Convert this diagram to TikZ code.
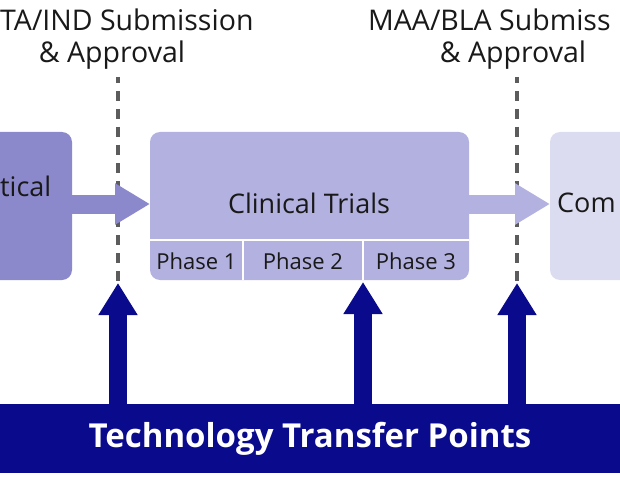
\documentclass[tikz,border=0pt]{standalone}
\usepackage{fontspec}
\setmainfont{Open Sans}
\usetikzlibrary{arrows.meta,positioning}

\definecolor{preclin}{HTML}{8B88CC}
\definecolor{clinical}{HTML}{B3B1E0}
\definecolor{commer}{HTML}{DCDCF0}
\definecolor{navy}{HTML}{0A0A8C}
\definecolor{dashgray}{HTML}{5C5C5C}

\begin{document}
\begin{tikzpicture}[x=1pt, y=1pt,
    stage/.style={rounded corners=10pt, inner sep=0pt, outer sep=0pt, minimum height=148pt},
    stagetext/.style={font=\fontsize{27}{30}\selectfont, text=black!90, inner sep=0pt},
    phase/.style={font=\fontsize{22}{24}\selectfont, text=black!90},
    flow/.style={line width=19pt, -{Triangle[length=35pt, width=39pt]}},
    milestone/.style={dashgray, line width=3.5pt, dash pattern=on 10pt off 8pt, dash phase=4pt},
    transfer/.style={navy, line width=18pt, -{Triangle[length=32pt, width=37pt]}},
    gate/.style={font=\fontsize{28.5}{30}\selectfont, text=black!90, inner sep=0pt}]

    \useasboundingbox (0,0) rectangle (620,480);
    \clip (0,0) rectangle (620,480);

    % --- Stage boxes ---
    \node[stage, fill=preclin, minimum width=200pt, anchor=north east] (pre) at (72,348) {};
    \node[stagetext, anchor=west] (pretext) at (0,294) {tical};

    \node[stage, fill=clinical, minimum width=319pt, anchor=north west] (clin) at (150,348) {};
    \node[stagetext] (clintext) at (309,277) {Clinical Trials};

    \node[stage, fill=commer, minimum width=200pt, anchor=north west] (comm) at (550,348) {};
    \node[stagetext, anchor=west] (commtext) at (557,277) {Com};

    % Phase row of the clinical box
    \draw[white, line width=1.5pt] (clin.west |- 0,240) -- (clin.east |- 0,240);
    \draw[white, line width=1.5pt] (243,240) -- (243,200);
    \draw[white, line width=1.5pt] (363,240) -- (363,200);
    \node[phase] (ph1) at (196.5,219) {Phase 1};
    \node[phase] (ph2) at (303,219) {Phase 2};
    \node[phase] (ph3) at (416,219) {Phase 3};

    % --- Regulatory milestones ---
    \coordinate (ctatop) at (118,403);
    \coordinate (ctabot) at (118,197);
    \coordinate (maatop) at (517,403);
    \coordinate (maabot) at (517,197);
    \coordinate (phsplit) at (363,198);

    \draw[milestone] (ctatop) -- (ctabot);
    \draw[milestone] (maatop) -- (maabot);

    \node[gate, anchor=west] (ctalbl) at (0,460) {TA/IND Submission};
    \node[gate] (ctaappr) at (112,425) {\& Approval};
    \node[gate, anchor=west] (maalbl) at (368,460) {MAA/BLA Submiss};
    \node[gate] (maaappr) at (513,425) {\& Approval};

    % --- Flow between stages ---
    \draw[flow, preclin] ([yshift=2pt]pre.east) -- ([yshift=2pt]clin.west);
    \draw[flow, clinical] ([yshift=2pt]clin.east) -- ([yshift=2pt]comm.west);

    % --- Technology transfer bar ---
    \node[fill=navy, minimum width=660pt, minimum height=69pt, inner sep=0pt,
          text=white, font=\fontsize{33}{36}\bfseries] (bar) at (310,41.5) {Technology Transfer Points};

    \draw[transfer] (ctabot |- bar.north) -- (ctabot);
    \draw[transfer] (phsplit |- bar.north) -- (phsplit);
    \draw[transfer] (maabot |- bar.north) -- (maabot);

\end{tikzpicture}
\end{document}
